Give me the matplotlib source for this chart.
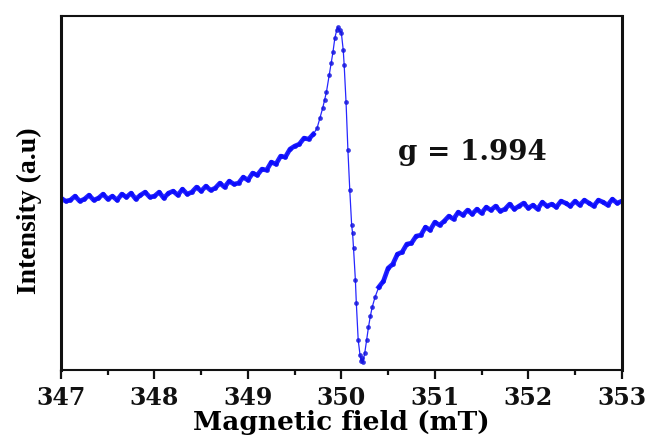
import matplotlib
matplotlib.use("Agg")
import matplotlib.pyplot as plt
from matplotlib.ticker import MultipleLocator

# EPR spectrum, derivative signal (field in mT, intensity in arbitrary units)
field_left = [347.00, 347.05, 347.10, 347.15, 347.20, 347.25, 347.30, 347.35, 347.40, 347.45,
              347.50, 347.55, 347.60, 347.65, 347.70, 347.75, 347.80, 347.85, 347.90, 347.95,
              348.00, 348.05, 348.10, 348.15, 348.20, 348.25, 348.30, 348.35, 348.40, 348.45,
              348.50, 348.55, 348.60, 348.65, 348.70, 348.75, 348.80, 348.85, 348.90, 348.95,
              349.00, 349.05, 349.10, 349.15, 349.20, 349.25, 349.30, 349.35, 349.40, 349.45,
              349.50, 349.55, 349.60, 349.65, 349.70]
signal_left = [2, -1, 0, 4, -1, 1, 5, 0, 2, 6,
               1, 4, 0, 6, 3, 7, 1, 5, 8, 3,
               4, 8, 2, 7, 9, 5, 11, 6, 8, 13,
               9, 14, 10, 12, 17, 13, 19, 16, 17, 23,
               20, 27, 25, 31, 30, 38, 36, 44, 43, 51,
               54, 56, 62, 61, 66]

field_mid = [349.74, 349.77, 349.80, 349.82, 349.84, 349.87, 349.89, 349.91, 349.93, 349.95,
             349.96, 349.98, 350.00, 350.02, 350.03, 350.05, 350.07, 350.09, 350.11, 350.12,
             350.13, 350.15, 350.16, 350.18, 350.20, 350.21, 350.22, 350.23, 350.25, 350.27,
             350.29, 350.31, 350.33, 350.36]
signal_mid = [72, 82, 92, 100, 108, 125, 137, 148, 162, 170,
              173, 170, 167, 150, 135, 98, 50, 10, -25, -33,
              -48, -80, -103, -140, -155, -161, -158, -162, -153, -140,
              -127, -116, -107, -97]

field_right = [350.40, 350.45, 350.50, 350.55, 350.60, 350.65, 350.70, 350.75, 350.80, 350.85,
               350.90, 350.95, 351.00, 351.05, 351.10, 351.15, 351.20, 351.25, 351.30, 351.35,
               351.40, 351.45, 351.50, 351.55, 351.60, 351.65, 351.70, 351.75, 351.80, 351.85,
               351.90, 351.95, 352.00, 352.05, 352.10, 352.15, 352.20, 352.25, 352.30, 352.35,
               352.40, 352.45, 352.50, 352.55, 352.60, 352.65, 352.70, 352.75, 352.80, 352.85,
               352.90, 352.95, 353.00]
signal_right = [-87, -81, -68, -64, -54, -52, -44, -43, -36, -35,
                -27, -30, -22, -25, -21, -16, -19, -12, -15, -10,
                -14, -9, -13, -7, -10, -6, -11, -9, -4, -9,
                -6, -3, -8, -5, -9, -2, -6, -4, -7, -1,
                -3, -6, -1, -5, 0, -3, -6, 0, -2, -5,
                1, -3, -1]

field = field_left + field_mid + field_right
signal = signal_left + signal_mid + signal_right

x_ticks = [347, 348, 349, 350, 351, 352, 353]
g_value = "g = 1.994"

fig = plt.figure(figsize=(6.49, 4.36), dpi=100)
ax = fig.add_axes([0.094, 0.151, 0.864, 0.812])

# thin trace with dots through the whole sweep
ax.plot(field, signal, color="#0000ff", lw=0.9, marker="o", ms=3.4,
        mec="none", mfc="#1414e0", alpha=0.85)
# the noisy wings read as a heavy band
ax.plot(field_left, signal_left, color="#0a0aff", lw=3.4, alpha=0.9,
        solid_joinstyle="round")
ax.plot(field_right, signal_right, color="#0a0aff", lw=3.4, alpha=0.9,
        solid_joinstyle="round")

ax.set_xlim(347, 353)
ax.set_ylim(-170, 184)
ax.set_xticks(x_ticks)
ax.xaxis.set_minor_locator(MultipleLocator(0.5))
ax.set_yticks([])

tick_font = dict(family="DejaVu Serif", weight="bold", size=17)
ax.set_xticklabels([str(t) for t in x_ticks], fontdict=tick_font)
ax.tick_params(axis="x", which="major", direction="out", length=6.5, width=1.6,
               pad=5, colors="#111111")
ax.tick_params(axis="x", which="minor", direction="out", length=3.5, width=1.6,
               colors="#111111")

for side in ["top", "bottom"]:
    ax.spines[side].set_linewidth(1.5)
for side in ["left", "right"]:
    ax.spines[side].set_linewidth(2.2)
for sp in ax.spines.values():
    sp.set_color("#111111")

ax.set_xlabel("Magnetic field (mT)", family="DejaVu Serif", weight="bold",
              size=19, labelpad=0)
ax.set_ylabel("Intensity (a.u)", family="Liberation Serif", weight="bold",
              size=20)
ax.yaxis.set_label_coords(-0.034, 0.45)

ax.text(351.40, 48, g_value, family="DejaVu Serif", weight="bold", size=20,
        ha="center", va="center", color="#111111")

fig.savefig("out.png", dpi=100)
